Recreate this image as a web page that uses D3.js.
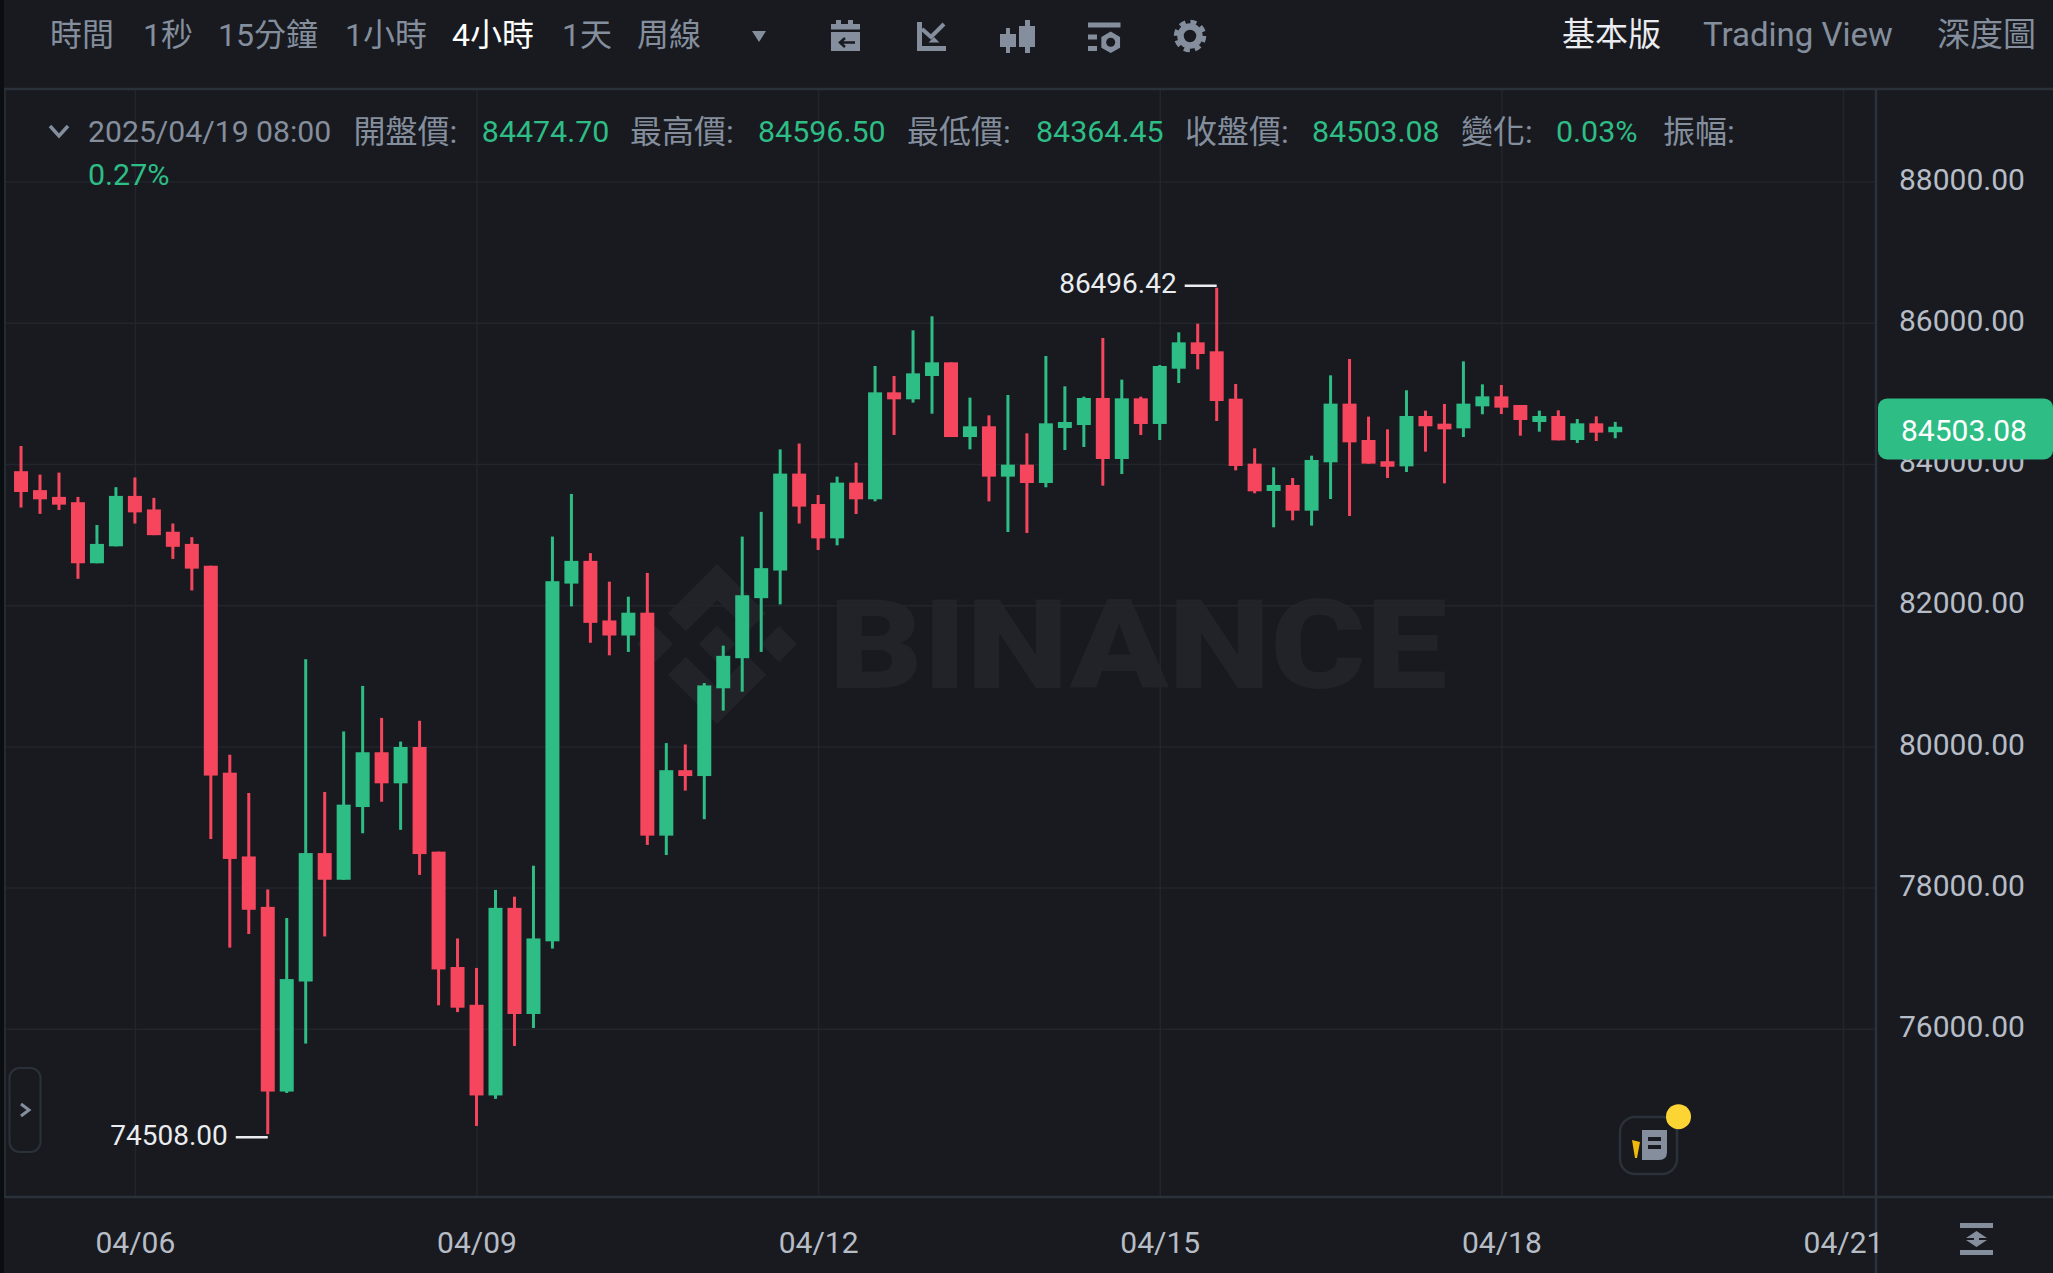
<!DOCTYPE html>
<html lang="zh-Hant">
<head>
    <meta charset="UTF-8">
    <script src="https://d3js.org/d3.v7.min.js"></script>
    <title>BTC 4h</title>
    <style>
        html, body { margin: 0; padding: 0; background: #181a20; overflow: hidden; }
        text { font-family: Roboto, "Noto Sans CJK TC", sans-serif; }
    </style>
</head>
<body>
    <svg id="plot"></svg>
    <script>
        const opens = [83898,83630,83534,83459,82594,82834,83548,83356,83040,82868,
            82559,79628,78441,77727,75111,76670,78489,78111,79141,79917,
            79477,79992,78509,76875,76340,75056,77713,76210,77239,82306,
            82628,81784,81571,81894,78736,79663,79580,80823,81249,82100,
            82491,83864,83433,82947,83736,83500,85015,84916,85246,85440,
            84382,84534,83821,83991,83731,84510,84552,84935,84071,84930,
            84567,85350,85723,85596,84925,84005,83618,83703,83339,84024,
            84855,84340,84038,83967,84680,84571,84505,84817,84958,84836,
            84595,84680,84340,84576,84474.70];
        const closes = [83603,83500,83424,82594,82868,83548,83315,82992,82827,82518,
            79587,78406,77686,75111,76704,78489,78111,79175,79917,79477,
            79992,78475,76841,76299,75056,77713,76210,77280,82340,82628,
            81750,81571,81894,78736,79663,79580,80864,81283,82141,82525,
            83864,83397,82947,83736,83500,85015,84916,85284,85440,84382,
            84534,83821,83991,83731,84576,84595,84935,84071,84930,84567,
            85388,85723,85558,84892,83972,83613,83703,83339,84057,84855,
            84307,84005,83962,84680,84534,84491,84855,84958,84798,84623,
            84680,84335,84576,84444,84503.08];
        const highs = [84255,83850,83878,83534,83136,83672,83809,83520,83157,82964,
            82559,79882,79340,77974,77569,81235,79354,80212,80857,80404,
            80068,80363,78509,77280,76862,77967,77871,78310,82972,83576,
            82738,82333,82120,82457,80047,80027,80898,81427,82972,83322,
            84207,84290,83561,83821,84019,85388,85246,85893,86092,85440,
            84940,84689,84977,84434,85530,85100,84954,85785,85195,84954,
            85402,85865,85988,86496.42,85133,84222,83953,83802,84118,85256,
            85487,84671,84491,85044,84755,84850,85454,85128,85119,84836,
            84755,84760,84637,84675,84596.50];
        const lows = [83383,83294,83349,82374,82594,82834,83157,82992,82656,82209,
            78688,77150,77342,74508,75091,75791,77308,78111,78770,79216,
            78818,78180,76333,76237,74624,75008,75757,76011,77136,81983,
            81468,81290,81338,78605,78461,79374,78969,80507,80775,81338,
            82011,83157,82782,82848,83292,83471,84411,84869,84713,84382,
            84208,83471,83037,83023,83670,84198,84241,83693,83858,84411,
            84340,85147,85341,84609,83910,83585,83103,83202,83127,83504,
            83264,84005,83802,83887,84175,83726,84382,84704,84708,84401,
            84458,84335,84298,84326,84364.45];

        const priceTicks = [76000,78000,80000,82000,84000,86000,88000];
        const dateTickIndex = [6,24,42,60,78,96];
        const dateTickLabels = ["04/06","04/09","04/12","04/15","04/18","04/21"];

        const tabs = ["時間","1秒","15分鐘","1小時","4小時","1天","周線"];
        const tabX = [50,143,218,345,452,562,637];
        const infoLabels = ["開盤價:","最高價:","最低價:","收盤價:","變化:","振幅:"];
        const infoValues = ["84474.70","84596.50","84364.45","84503.08","0.03%"];

        const width = 2053, height = 1273;
        const axisX = 1876, headerY = 90, footerY = 1197;
        const up = "#2ebd85", down = "#f6465d", grey = "#848e9c", axisText = "#b7bdc6";
        const gridColor = "#22252b", borderColor = "#2b3139", bg = "#181a20";

        const svg = d3.select("#plot").attr("width", width).attr("height", height)
            .style("display", "block");
        svg.append("rect").attr("width", width).attr("height", height).attr("fill", bg);
        svg.append("rect").attr("width", 4).attr("height", height).attr("fill", "#0b0e11");

        const x = d3.scaleLinear().domain([6, 96]).range([134.9, 1843]);
        const y = d3.scaleLinear().domain([76000, 88000]).range([1028.8, 181.6]);

        // watermark under everything
        const wm = svg.append("g").attr("fill", "#212328");
        const logo = wm.append("g").attr("transform", "translate(637,564) scale(1.264)");
        ["M38.73 53.2L63.32 28.62L87.92 53.22L102.22 38.91L63.32 0L24.42 38.9Z",
         "M0 63.31L14.3 49L28.61 63.31L14.3 77.61Z",
         "M38.73 73.41L63.32 98L87.92 73.4L102.23 87.69L63.32 126.61L24.42 87.71Z",
         "M98 63.31L112.3 49L126.61 63.3L112.3 77.62Z",
         "M77.83 63.3L63.32 48.78L48.82 63.28L63.32 77.8Z"]
            .forEach(d => logo.append("path").attr("d", d));
        wm.append("text").attr("x", 829).attr("y", 688).text("BINANCE")
            .attr("font-size", 125).attr("font-weight", 900)
            .attr("textLength", 618).attr("lengthAdjust", "spacingAndGlyphs");

        // grid
        svg.append("g").attr("transform", `translate(${axisX},0)`)
            .call(d3.axisLeft(y).tickValues(priceTicks).tickSize(axisX - 4).tickFormat(""))
            .call(g => g.select(".domain").remove())
            .call(g => g.selectAll("line").attr("stroke", gridColor).attr("stroke-width", 1.5));
        svg.append("g").attr("transform", `translate(0,${footerY})`)
            .call(d3.axisTop(x).tickValues(dateTickIndex).tickSize(footerY - headerY).tickFormat(""))
            .call(g => g.select(".domain").remove())
            .call(g => g.selectAll("line").attr("stroke", gridColor).attr("stroke-width", 1.5));

        // candles
        const candles = svg.append("g").selectAll("g").data(d3.range(opens.length)).join("g")
            .attr("fill", i => closes[i] >= opens[i] ? up : down);
        candles.append("rect")
            .attr("x", i => x(i) - 1.5).attr("width", 3)
            .attr("y", i => y(highs[i]))
            .attr("height", i => y(lows[i]) - y(highs[i]));
        candles.append("rect")
            .attr("x", i => x(i) - 7).attr("width", 14)
            .attr("y", i => {
                const bodyTop = y(Math.max(opens[i], closes[i]));
                const h = y(Math.min(opens[i], closes[i])) - bodyTop;
                return h < 5.5 ? bodyTop - (5.5 - h) / 2 : bodyTop;
            })
            .attr("height", i => Math.max(5.5, Math.abs(y(opens[i]) - y(closes[i]))));

        // high / low markers
        const iHigh = d3.maxIndex(highs), iLow = d3.minIndex(lows);
        const marks = [
            {i: iHigh, v: highs[iHigh], dy: -2},
            {i: iLow, v: lows[iLow], dy: 3}
        ];
        marks.forEach(m => {
            svg.append("line").attr("x1", x(m.i) - 32).attr("x2", x(m.i))
                .attr("y1", y(m.v) + m.dy).attr("y2", y(m.v) + m.dy)
                .attr("stroke", "#eaecef").attr("stroke-width", 2.5);
            svg.append("text").attr("x", x(m.i) - 40).attr("y", y(m.v) + m.dy - 2.5)
                .attr("dy", "0.36em").attr("text-anchor", "end")
                .attr("font-size", 28).attr("fill", "#eaecef").text(m.v.toFixed(2));
        });

        // frame first, the labels sit over it
        const frame = svg.append("g").attr("stroke", borderColor).attr("stroke-width", 2.5);
        frame.append("line").attr("x1", 4).attr("x2", width).attr("y1", headerY - 1).attr("y2", headerY - 1);
        frame.append("line").attr("x1", 4).attr("x2", width).attr("y1", footerY).attr("y2", footerY);
        frame.append("line").attr("x1", axisX).attr("x2", axisX).attr("y1", headerY - 1).attr("y2", height);
        frame.append("line").attr("x1", 5).attr("x2", 5).attr("y1", headerY - 1).attr("y2", footerY)
            .attr("stroke-width", 1.5);

        // axes
        svg.append("g").attr("transform", `translate(${axisX},-2)`)
            .call(d3.axisRight(y).tickValues(priceTicks).tickSize(0).tickPadding(23).tickFormat(d3.format(".2f")))
            .call(g => g.select(".domain").remove())
            .call(g => g.selectAll("text").attr("font-size", 30).attr("fill", axisText)
                .attr("font-family", "Roboto, sans-serif"));
        svg.append("g").attr("transform", `translate(0,${footerY})`)
            .call(d3.axisBottom(x).tickValues(dateTickIndex).tickSize(0).tickPadding(35)
                .tickFormat((d, i) => dateTickLabels[i]))
            .call(g => g.select(".domain").remove())
            .call(g => g.selectAll("text").attr("font-size", 30).attr("fill", axisText)
                .attr("font-family", "Roboto, sans-serif"));

        // last price tag
        const lastClose = closes[closes.length - 1];
        svg.append("rect").attr("x", 1878).attr("y", y(lastClose) - 30).attr("width", 175).attr("height", 61)
            .attr("rx", 9).attr("fill", up);
        svg.append("text").attr("x", 1901).attr("y", y(lastClose) + 2).attr("dy", "0.36em")
            .attr("font-size", 30).attr("fill", "#fff").text(lastClose.toFixed(2));

        // top tabs
        svg.append("g").selectAll("text").data(tabs).join("text")
            .attr("x", (d, i) => tabX[i]).attr("y", 34).attr("dy", "0.36em")
            .attr("font-size", 32)
            .attr("font-weight", 400)
            .attr("fill", d => d === "4小時" ? "#fff" : grey)
            .text(d => d);
        svg.append("path").attr("d", "M752 31L766 31L759 42Z").attr("fill", grey);

        const topLinks = [["基本版", 1562, "#eaecef"], ["Trading View", 1703, grey], ["深度圖", 1937, grey]];
        topLinks.forEach(t => svg.append("text").attr("x", t[1]).attr("y", 34).attr("dy", "0.36em")
            .attr("font-size", 33).attr("fill", t[2]).text(t[0]));

        // info row
        const labelX = [353.5, 630, 907, 1185, 1461, 1663];
        const valueX = [481.8, 758, 1036, 1312, 1556];
        svg.append("path").attr("d", "M50 126L59 136L68 126").attr("fill", "none")
            .attr("stroke", grey).attr("stroke-width", 3.5);
        svg.append("text").attr("x", 88).attr("y", 131).attr("dy", "0.36em").attr("font-size", 30.2)
            .attr("fill", grey).text("2025/04/19 08:00");
        infoLabels.forEach((t, i) => svg.append("text").attr("x", labelX[i]).attr("y", 131).attr("dy", "0.36em")
            .attr("font-size", 32).attr("fill", grey).text(t));
        infoValues.forEach((t, i) => svg.append("text").attr("x", valueX[i]).attr("y", 131).attr("dy", "0.36em")
            .attr("font-size", 30.4).attr("fill", up).text(t));
        svg.append("text").attr("x", 88).attr("y", 174).attr("dy", "0.36em").attr("font-size", 30.4)
            .attr("fill", up).text("0.27%");

        // toolbar icons
        const icons = svg.append("g").attr("fill", grey);
        // calendar
        icons.append("path")
            .attr("d", "M836 20H841V24H848V20H853V24H860V29.5H831V24H836ZM831 32H860V51H831Z");
        icons.append("path").attr("fill", "none").attr("stroke", bg).attr("stroke-width", 2.5)
            .attr("d", "M855 42.5H840M845 38L840 42.5L845 47");
        // chart
        icons.append("path").attr("d", "M917 22H922V46H946V51H917ZM934 37L939.5 42.5H928.5Z");
        icons.append("path").attr("fill", "none").attr("stroke", grey).attr("stroke-width", 4)
            .attr("d", "M922 29L931 37L944 24");
        // candles
        icons.append("path").attr("d", "M1006 28H1010V34H1016V47H1010V53H1006V47H1000V34H1006ZM1025 20H1030V26H1035V47H1030V53H1025V47H1019V26H1025Z");
        // display settings
        icons.append("path").attr("d", "M1088 22.5H1120.5V27.5H1088ZM1088 34.5H1097V39.5H1088ZM1088 46H1097V51H1088Z");
        icons.append("path").attr("d", d3.line()(d3.range(6).map(k => {
            const a = Math.PI / 3 * k;
            return [1110.7 + 10.8 * Math.sin(a), 42.3 - 10.8 * Math.cos(a)];
        })) + "Z");
        icons.append("circle").attr("cx", 1110.7).attr("cy", 42.3).attr("r", 4.5).attr("fill", bg);
        // gear
        icons.append("circle").attr("cx", 1190).attr("cy", 36).attr("r", 9.5).attr("fill", "none")
            .attr("stroke", grey).attr("stroke-width", 6.5);
        icons.append("circle").attr("cx", 1190).attr("cy", 36).attr("r", 14).attr("fill", "none")
            .attr("stroke", grey).attr("stroke-width", 4.5).attr("stroke-dasharray", "6 5");

        // side button
        svg.append("rect").attr("x", 9.5).attr("y", 1068).attr("width", 31).attr("height", 84).attr("rx", 10)
            .attr("fill", "none").attr("stroke", borderColor).attr("stroke-width", 2);
        svg.append("path").attr("d", "M21 1104L29 1110L21 1116").attr("fill", "none")
            .attr("stroke", grey).attr("stroke-width", 3);

        // news button
        svg.append("rect").attr("x", 1620).attr("y", 1117).attr("width", 57).attr("height", 57).attr("rx", 15)
            .attr("fill", bg).attr("stroke", borderColor).attr("stroke-width", 2.5);
        svg.append("path").attr("d", "M1642 1130H1667V1152Q1667 1160 1659 1160H1642Z").attr("fill", grey);
        svg.append("path").attr("d", "M1648 1137H1661V1141H1648ZM1648 1145H1661V1149H1648Z").attr("fill", bg);
        svg.append("path").attr("d", "M1632 1140L1640 1142L1637 1158L1635 1158Z").attr("fill", "#f0b90b");
        svg.append("circle").attr("cx", 1678.5).attr("cy", 1116.7).attr("r", 12.5).attr("fill", "#fcd535");

        // auto scale icon
        svg.append("path").attr("fill", grey)
            .attr("d", "M1960 1223H1993V1228H1960ZM1960 1250H1993V1255H1960ZM1976.5 1231L1987 1238H1979V1240H1987L1976.5 1247L1966 1240H1974V1238H1966Z");
    </script>
</body>
</html>
